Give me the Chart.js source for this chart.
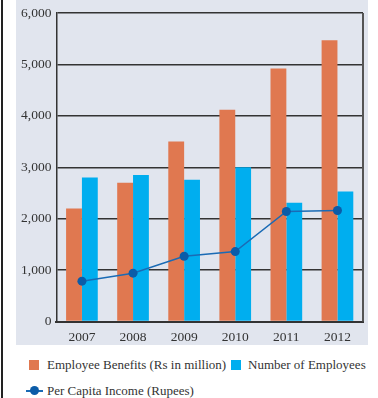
<!DOCTYPE html>
<html>
<head>
<meta charset="utf-8">
<script src="https://cdn.jsdelivr.net/npm/chart.js@4"></script>
<style>
  body { margin: 0; width: 378px; height: 398px; background: #fff; position: relative; overflow: hidden;
         font-family: "Liberation Serif", "DejaVu Serif", serif; color: #333; }
  #edge { position: absolute; left: 1px; top: 0; width: 2px; height: 398px; background: #222; }
  #panel { position: absolute; left: 16px; top: 0; width: 352px; height: 345px; background: #e1e5ee; }
  .leg { position: absolute; font-size: 13px; line-height: 16px; white-space: nowrap; }
  .box { position: absolute; width: 10px; height: 10px; }
</style>
</head>
<body>
<div id="edge"></div>
<div id="panel"><canvas id="canvas1" width="352" height="345"></canvas></div>

<div class="box" style="left:29px; top:360px; background:#e07850;"></div>
<div class="leg" style="left:47px; top:357px;">Employee Benefits (Rs in million)</div>
<div class="box" style="left:231px; top:360px; background:#00aeef;"></div>
<div class="leg" style="left:248px; top:357px;">Number of Employees</div>
<div style="position:absolute; left:26px; top:390px; width:17px; height:2px; background:#1a6bb5;"></div>
<div style="position:absolute; left:30px; top:386px; width:9px; height:9px; border-radius:50%; background:#0b5ca8;"></div>
<div class="leg" style="left:47px; top:383px;">Per Capita Income (Rupees)</div>

<script>
document.addEventListener('DOMContentLoaded', function () {
    let years = ['2007', '2008', '2009', '2010', '2011', '2012'];
    let benefits = [2200, 2700, 3500, 4120, 4920, 5470];
    let employees = [2800, 2850, 2760, 3000, 2310, 2530];
    let perCapita = [785, 940, 1270, 1360, 2140, 2160];

    // right border of the plot
    let rightBorder = {
        id: 'rightBorder',
        afterDraw: function (chart) {
            let a = chart.chartArea;
            let ctx = chart.ctx;
            ctx.save();
            ctx.strokeStyle = '#555';
            ctx.lineWidth = 2;
            ctx.beginPath();
            ctx.moveTo(a.right, a.top);
            ctx.lineTo(a.right, a.bottom);
            ctx.stroke();
            ctx.restore();
        }
    };

    let canvas1 = document.getElementById("canvas1");
    let chart1 = new Chart(canvas1, {
        type: 'bar',
        data: {
            labels: years,
            datasets: [{
                label: 'Per Capita Income (Rupees)',
                type: 'line',
                data: perCapita,
                borderColor: '#1a6bb5',
                backgroundColor: '#0b5ca8',
                borderWidth: 1.5,
                pointRadius: 4.5,
                pointBorderWidth: 0,
                order: 0
            }, {
                label: 'Employee Benefits (Rs in million)',
                data: benefits,
                backgroundColor: '#e07850',
                order: 1
            }, {
                label: 'Number of Employees',
                data: employees,
                backgroundColor: '#00aeef',
                order: 2
            }]
        },
        options: {
            responsive: false,
            animation: false,
            layout: { padding: { top: 10, right: 5, left: 0, bottom: 0 } },
            datasets: {
                bar: { categoryPercentage: 0.62, barPercentage: 1.0 }
            },
            plugins: {
                legend: { display: false },
                tooltip: { enabled: false }
            },
            scales: {
                x: {
                    grid: { display: false },
                    border: { color: '#333', width: 2 },
                    ticks: {
                        color: '#333',
                        font: { family: 'Liberation Serif', size: 13.5, lineHeight: 1.0 },
                        padding: 1
                    }
                },
                y: {
                    min: 0,
                    max: 6000,
                    ticks: {
                        stepSize: 1000,
                        color: '#333',
                        padding: 5,
                        font: { family: 'Liberation Serif', size: 13.5 }
                    },
                    grid: { color: '#333', lineWidth: 1.5, drawTicks: false },
                    border: { color: '#333', width: 1.5 }
                }
            }
        },
        plugins: [rightBorder]
    });
});
</script>
</body>
</html>
